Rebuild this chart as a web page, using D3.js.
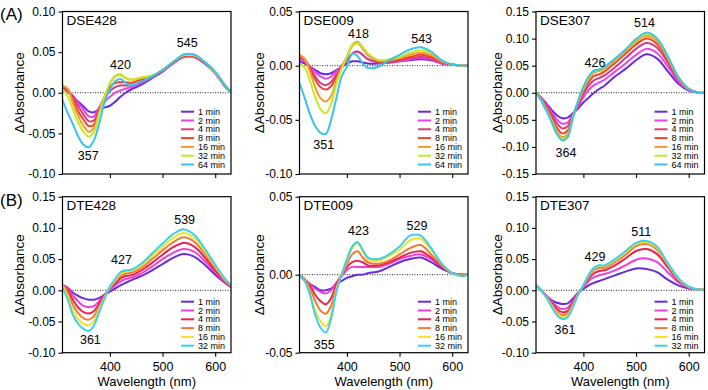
<!DOCTYPE html>
<html><head><meta charset="utf-8">
<script src="https://cdn.jsdelivr.net/npm/d3@7"></script>
<style>body{margin:0;background:#fff}svg{display:block;font-family:"Liberation Sans",Arial,Helvetica,sans-serif}</style>
</head><body>
<script>
// ---------- data ----------
const wavelengths = [310,320,330,340,350,360,370,380,390,400,410,420,430,440,460,480,500,520,540,560,580,600,620,630];
const timesA = ["1 min","2 min","4 min","8 min","16 min","32 min","64 min"];
const timesB = ["1 min","2 min","4 min","8 min","16 min","32 min"];
const colorsA = ["#6a2bd9","#f03ef0","#d63d7d","#f0452a","#f59a2c","#c5ea22","#35c4ec"];
const colorsB = ["#6a2bd9","#ee3fd6","#ea2450","#f07a35","#f2e22a","#3ccfec"];

const dse428 = [
 [0.004,0.001,-0.005,-0.011,-0.017,-0.023,-0.024,-0.020,-0.018,-0.016,-0.011,-0.005,0.000,0.004,0.010,0.018,0.026,0.036,0.044,0.044,0.036,0.024,0.007,0.001],
 [0.005,0.002,-0.004,-0.013,-0.021,-0.029,-0.029,-0.018,-0.011,-0.005,0.000,0.003,0.005,0.007,0.012,0.019,0.027,0.036,0.044,0.044,0.036,0.024,0.007,0.001],
 [0.006,0.003,-0.005,-0.017,-0.027,-0.035,-0.034,-0.019,-0.006,0.002,0.007,0.009,0.009,0.009,0.013,0.019,0.027,0.037,0.045,0.045,0.037,0.025,0.007,0.001],
 [0.008,0.004,-0.009,-0.023,-0.033,-0.041,-0.039,-0.021,-0.005,0.007,0.012,0.013,0.013,0.012,0.016,0.020,0.028,0.037,0.045,0.045,0.037,0.025,0.007,0.001],
 [0.009,0.005,-0.013,-0.029,-0.041,-0.048,-0.043,-0.023,-0.004,0.011,0.020,0.022,0.018,0.016,0.018,0.021,0.028,0.038,0.046,0.046,0.038,0.025,0.008,0.001],
 [0.004,-0.004,-0.021,-0.037,-0.048,-0.054,-0.048,-0.025,-0.005,0.012,0.021,0.023,0.018,0.016,0.019,0.021,0.028,0.038,0.046,0.046,0.038,0.025,0.008,0.001],
 [-0.009,-0.025,-0.039,-0.054,-0.064,-0.067,-0.058,-0.037,-0.011,0.004,0.014,0.017,0.012,0.009,0.014,0.020,0.028,0.038,0.047,0.047,0.038,0.026,0.008,0.001]
];
const dse009 = [
 [0.004,0.002,-0.001,-0.004,-0.007,-0.008,-0.007,-0.004,-0.001,0.002,0.004,0.004,0.003,0.002,0.002,0.003,0.004,0.005,0.006,0.005,0.002,0.001,0.000,0.000],
 [0.006,0.004,-0.001,-0.006,-0.010,-0.012,-0.010,-0.005,0.000,0.005,0.011,0.013,0.010,0.006,0.003,0.003,0.004,0.006,0.007,0.006,0.002,0.001,0.000,0.000],
 [0.008,0.005,-0.002,-0.010,-0.016,-0.018,-0.015,-0.008,-0.001,0.005,0.011,0.013,0.010,0.006,0.003,0.003,0.005,0.007,0.008,0.007,0.003,0.001,0.000,0.000],
 [0.010,0.006,-0.003,-0.013,-0.020,-0.022,-0.019,-0.010,-0.001,0.008,0.018,0.021,0.016,0.010,0.004,0.004,0.006,0.008,0.010,0.008,0.003,0.001,0.000,0.000],
 [0.010,0.006,-0.006,-0.020,-0.030,-0.033,-0.028,-0.014,-0.002,0.008,0.019,0.022,0.017,0.011,0.005,0.005,0.007,0.010,0.012,0.010,0.004,0.001,0.000,0.000],
 [0.002,-0.002,-0.014,-0.029,-0.040,-0.044,-0.035,-0.017,-0.003,0.008,0.018,0.021,0.017,0.011,0.005,0.006,0.008,0.012,0.014,0.012,0.005,0.001,0.000,0.000],
 [-0.016,-0.030,-0.045,-0.056,-0.062,-0.063,-0.050,-0.030,-0.010,-0.001,0.011,0.009,0.002,-0.002,-0.001,0.005,0.010,0.015,0.017,0.013,0.005,0.001,0.000,0.000]
];
const dse307 = [
 [0.000,-0.009,-0.020,-0.032,-0.042,-0.047,-0.046,-0.038,-0.029,-0.018,-0.009,0.000,0.007,0.013,0.030,0.044,0.060,0.071,0.063,0.040,0.017,0.004,0.000,0.000],
 [0.000,-0.010,-0.022,-0.036,-0.050,-0.057,-0.055,-0.041,-0.025,-0.008,0.005,0.014,0.019,0.024,0.039,0.054,0.070,0.081,0.073,0.049,0.021,0.005,0.000,0.000],
 [0.000,-0.011,-0.025,-0.041,-0.057,-0.066,-0.062,-0.042,-0.022,-0.002,0.013,0.023,0.027,0.032,0.047,0.064,0.081,0.092,0.083,0.056,0.025,0.006,0.000,0.000],
 [0.000,-0.012,-0.028,-0.046,-0.065,-0.075,-0.070,-0.043,-0.019,0.003,0.020,0.031,0.034,0.039,0.055,0.072,0.089,0.100,0.090,0.061,0.027,0.007,0.000,0.000],
 [0.000,-0.013,-0.031,-0.050,-0.071,-0.082,-0.076,-0.044,-0.017,0.006,0.025,0.037,0.040,0.044,0.059,0.076,0.094,0.105,0.095,0.064,0.028,0.007,0.000,0.000],
 [0.000,-0.014,-0.033,-0.053,-0.075,-0.086,-0.080,-0.045,-0.016,0.009,0.028,0.039,0.042,0.047,0.062,0.079,0.097,0.109,0.099,0.067,0.029,0.007,0.000,0.000],
 [0.000,-0.015,-0.034,-0.055,-0.077,-0.088,-0.082,-0.046,-0.015,0.011,0.030,0.041,0.043,0.048,0.063,0.080,0.099,0.111,0.100,0.068,0.030,0.007,0.000,0.000]
];
const dte428 = [
 [0.008,0.004,-0.004,-0.009,-0.013,-0.015,-0.015,-0.012,-0.007,-0.002,0.003,0.008,0.012,0.016,0.023,0.032,0.042,0.052,0.058,0.054,0.041,0.025,0.011,0.005],
 [0.009,0.003,-0.009,-0.018,-0.025,-0.027,-0.025,-0.017,-0.007,0.001,0.008,0.014,0.018,0.020,0.027,0.038,0.050,0.060,0.066,0.062,0.047,0.029,0.012,0.006],
 [0.009,0.000,-0.016,-0.028,-0.035,-0.037,-0.033,-0.021,-0.008,0.003,0.011,0.019,0.023,0.024,0.032,0.044,0.057,0.069,0.076,0.070,0.053,0.032,0.014,0.007],
 [0.009,-0.004,-0.024,-0.037,-0.045,-0.047,-0.041,-0.026,-0.010,0.004,0.014,0.023,0.027,0.028,0.036,0.050,0.064,0.077,0.085,0.078,0.059,0.036,0.015,0.007],
 [0.008,-0.010,-0.032,-0.046,-0.054,-0.056,-0.049,-0.030,-0.011,0.005,0.016,0.026,0.030,0.031,0.040,0.055,0.070,0.084,0.092,0.084,0.063,0.039,0.016,0.008],
 [0.004,-0.015,-0.040,-0.054,-0.062,-0.065,-0.056,-0.034,-0.013,0.006,0.018,0.029,0.032,0.033,0.043,0.059,0.075,0.090,0.098,0.089,0.067,0.041,0.017,0.008]
];
const dte009 = [
 [0.000,-0.004,-0.006,-0.008,-0.010,-0.010,-0.009,-0.006,-0.004,-0.002,-0.001,0.000,0.000,0.001,0.002,0.005,0.008,0.010,0.011,0.008,0.004,0.001,0.000,0.000],
 [0.000,-0.003,-0.006,-0.009,-0.011,-0.012,-0.010,-0.005,-0.001,0.003,0.005,0.005,0.005,0.005,0.005,0.007,0.010,0.012,0.013,0.010,0.005,0.001,0.000,0.000],
 [0.000,-0.003,-0.007,-0.013,-0.017,-0.019,-0.015,-0.006,0.000,0.005,0.008,0.009,0.008,0.006,0.006,0.008,0.011,0.014,0.015,0.011,0.005,0.001,0.000,0.000],
 [0.000,-0.003,-0.009,-0.017,-0.023,-0.025,-0.020,-0.008,0.000,0.007,0.013,0.015,0.011,0.008,0.007,0.009,0.013,0.017,0.019,0.013,0.006,0.001,0.000,0.000],
 [0.000,-0.004,-0.012,-0.023,-0.030,-0.033,-0.026,-0.010,0.000,0.009,0.017,0.020,0.015,0.010,0.009,0.012,0.016,0.022,0.023,0.016,0.007,0.001,-0.001,0.000],
 [0.000,-0.004,-0.013,-0.026,-0.034,-0.037,-0.028,-0.011,0.000,0.010,0.018,0.021,0.016,0.011,0.010,0.013,0.018,0.025,0.025,0.017,0.007,0.001,-0.001,0.000]
];
const dte307 = [
 [0.008,0.000,-0.009,-0.016,-0.020,-0.022,-0.021,-0.013,-0.004,0.002,0.008,0.012,0.015,0.018,0.024,0.030,0.035,0.034,0.029,0.017,0.008,0.003,0.001,0.000],
 [0.008,0.000,-0.009,-0.018,-0.026,-0.030,-0.028,-0.017,-0.004,0.005,0.015,0.021,0.024,0.026,0.032,0.040,0.049,0.051,0.045,0.029,0.013,0.004,0.001,0.001],
 [0.008,0.000,-0.010,-0.021,-0.030,-0.035,-0.033,-0.020,-0.005,0.006,0.019,0.027,0.031,0.032,0.040,0.051,0.063,0.066,0.058,0.037,0.016,0.005,0.001,0.001],
 [0.008,0.000,-0.011,-0.023,-0.034,-0.040,-0.037,-0.023,-0.006,0.007,0.022,0.032,0.036,0.036,0.045,0.057,0.071,0.074,0.065,0.041,0.018,0.005,0.001,0.001],
 [0.008,0.000,-0.011,-0.025,-0.037,-0.043,-0.040,-0.025,-0.007,0.008,0.024,0.035,0.039,0.039,0.048,0.061,0.074,0.077,0.068,0.043,0.019,0.006,0.001,0.001],
 [0.008,0.000,-0.012,-0.027,-0.040,-0.046,-0.043,-0.027,-0.007,0.008,0.025,0.036,0.040,0.040,0.050,0.063,0.076,0.079,0.070,0.044,0.020,0.006,0.001,0.001]
];

const panelNames = ["DSE428","DSE009","DSE307","DTE428","DTE009","DTE307"];
const yDomains = [[-0.10,0.10],[-0.10,0.05],[-0.15,0.15],[-0.10,0.15],[-0.05,0.05],[-0.10,0.15]];
const yTicks = [
 [-0.10,-0.05,0.00,0.05,0.10],
 [-0.10,-0.05,0.00,0.05],
 [-0.15,-0.10,-0.05,0.00,0.05,0.10,0.15],
 [-0.10,-0.05,0.00,0.05,0.10,0.15],
 [-0.05,0.00,0.05],
 [-0.10,-0.05,0.00,0.05,0.10,0.15]
];
const xTicks = [400,500,600];
// peak annotations: [label, wavelength, value]
const peaks = [
 [["420",420,0.034],["545",547,0.061],["357",359,-0.078]],
 [["418",422,0.029],["543",542,0.025],["351",356,-0.073]],
 [["514",516,0.128],["426",422,0.055],["364",367,-0.111]],
 [["539",542,0.113],["427",422,0.049],["361",363,-0.080]],
 [["529",533,0.0315],["423",422,0.028],["355",357,-0.045]],
 [["511",510,0.094],["429",422,0.054],["361",365,-0.063]]
];

// ---------- layout ----------
const W = 708, H = 390;
const colLeft = [62.5, 299.5, 536];
const plotW = 168.5;
const rowTop = [11.5, 196.7];
const rowH = [162.5, 156];
const yLabX = [19, 259, 497];

const svg = d3.select("body").append("svg").attr("width", W).attr("height", H);
const fmt = d => (Math.abs(d) < 1e-9 ? "0.00" : d.toFixed(2));
const datasets = [dse428, dse009, dse307, dte428, dte009, dte307];

datasets.forEach((series, p) => {
  const row = Math.floor(p / 3), col = p % 3;
  const left = colLeft[col], top = rowTop[row], h = rowH[row];
  const x = d3.scaleLinear().domain([310, 630]).range([left, left + plotW]);
  const y = d3.scaleLinear().domain(yDomains[p]).range([top + h, top]);
  const times = row === 0 ? timesA : timesB;
  const colors = row === 0 ? colorsA : colorsB;

  const cid = "clip" + p;
  svg.append("clipPath").attr("id", cid).append("rect")
    .attr("x", left).attr("y", top).attr("width", plotW).attr("height", h);

  svg.append("line").attr("x1", left).attr("x2", left + plotW)
    .attr("y1", y(0)).attr("y2", y(0))
    .attr("stroke", "#222").attr("stroke-width", 1).attr("stroke-dasharray", "1,1.5");

  const line = d3.line().x((d, i) => x(wavelengths[i])).y(d => y(d))
    .curve(d3.curveCatmullRom.alpha(0.5));
  const g = svg.append("g").attr("clip-path", `url(#${cid})`);
  series.forEach((s, i) => {
    g.append("path").attr("d", line(s)).attr("fill", "none")
      .attr("stroke", colors[i]).attr("stroke-width", 2).attr("stroke-linejoin", "round");
  });

  svg.append("rect").attr("x", left).attr("y", top).attr("width", plotW).attr("height", h)
    .attr("fill", "none").attr("stroke", "#000").attr("stroke-width", 1.2);

  const ya = svg.append("g").attr("transform", `translate(${left},0)`)
    .call(d3.axisLeft(y).tickValues(yTicks[p]).tickSize(4).tickPadding(3).tickFormat(fmt));
  ya.select(".domain").remove();
  ya.selectAll("text").attr("font-size", 12).attr("fill", "#000").attr("font-family", null);
  ya.selectAll("line").attr("stroke", "#000").attr("stroke-width", 1.1);

  const xa = svg.append("g").attr("transform", `translate(0,${top + h})`)
    .call(d3.axisBottom(x).tickValues(xTicks).tickSize(4).tickPadding(5)
      .tickFormat(row === 1 ? d3.format("d") : () => ""));
  xa.select(".domain").remove();
  xa.selectAll("text").attr("font-size", 12.5).attr("fill", "#000").attr("font-family", null);
  xa.selectAll("line").attr("stroke", "#000").attr("stroke-width", 1.1);

  svg.append("text").attr("x", left + 4).attr("y", top + 13.5)
    .attr("font-size", 13.5).text(panelNames[p]);

  peaks[p].forEach(([t, wv, v]) => {
    svg.append("text").attr("x", x(wv)).attr("y", y(v))
      .attr("text-anchor", "middle").attr("dominant-baseline", "central")
      .attr("font-size", 12.5).text(t);
  });

  const lastY = top + h - (row === 0 ? 9.5 : 7);
  const n = times.length;
  times.forEach((t, i) => {
    const yy = lastY - (n - 1 - i) * 8.8;
    const lx = left + plotW - 50;
    svg.append("line").attr("x1", lx).attr("x2", lx + 13).attr("y1", yy).attr("y2", yy)
      .attr("stroke", colors[i]).attr("stroke-width", 2);
    svg.append("text").attr("x", lx + 17).attr("y", yy).attr("dominant-baseline", "central")
      .attr("font-size", 9).text(t);
  });

  svg.append("text").attr("transform", `translate(${yLabX[col]},${top + h / 2}) rotate(-90)`)
    .attr("text-anchor", "middle").attr("dominant-baseline", "central")
    .attr("font-size", 13.5).text("ΔAbsorbance");

  if (row === 1) {
    svg.append("text").attr("x", left + plotW / 2).attr("y", 386)
      .attr("text-anchor", "middle").attr("font-size", 13).text("Wavelength (nm)");
  }
});

svg.append("text").attr("x", 0).attr("y", 20).attr("font-size", 17).text("(A)");
svg.append("text").attr("x", 0).attr("y", 206).attr("font-size", 17).text("(B)");
</script>
</body></html>
